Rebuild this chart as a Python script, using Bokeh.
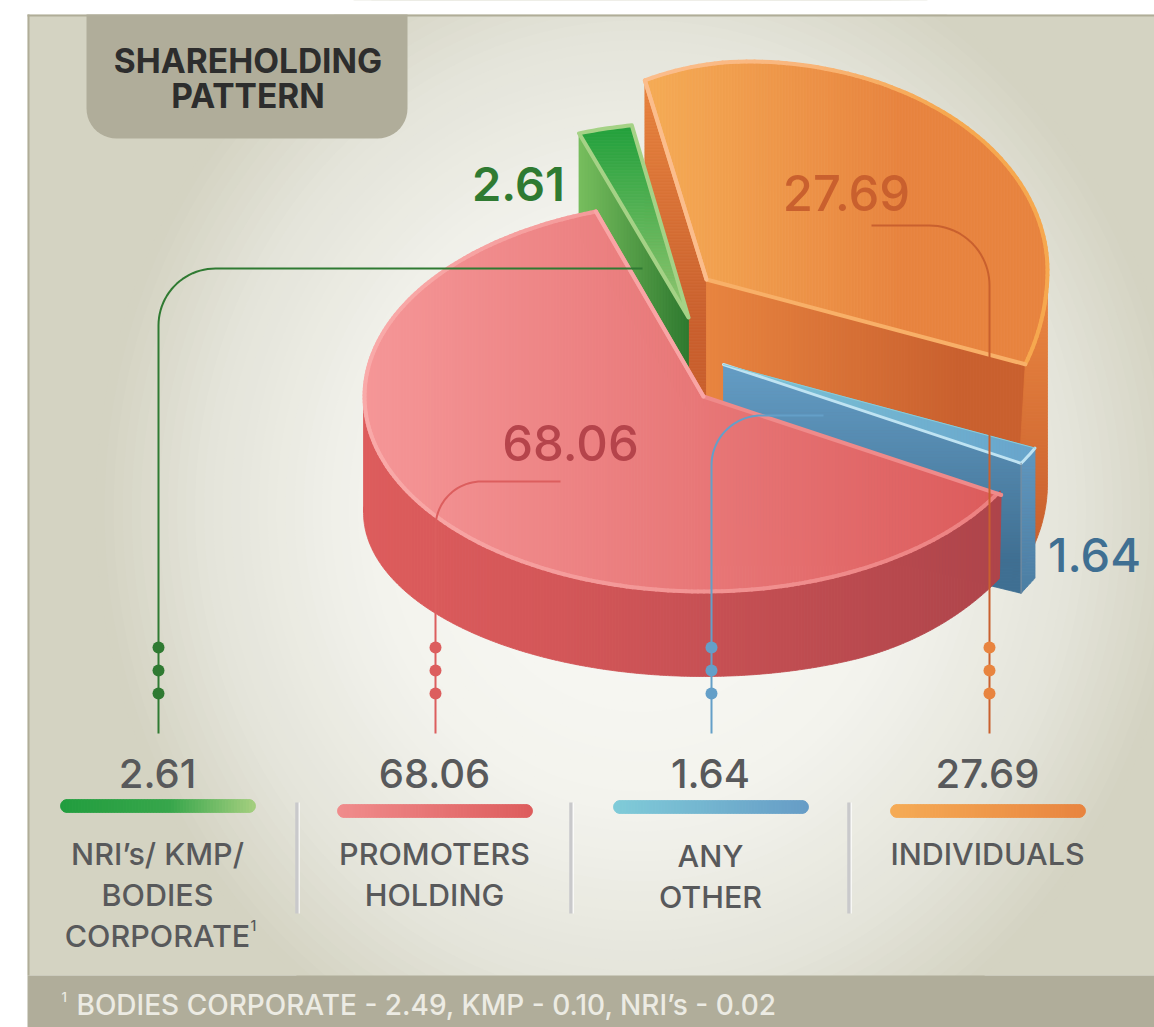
import numpy as np
from bokeh.plotting import figure
from bokeh.models import Range1d
from bokeh.core.properties import value
from bokeh.embed import file_html
from bokeh.resources import INLINE

# ---- data ----
categories = ["NRI's/ KMP/ BODIES CORPORATE", "PROMOTERS HOLDING", "ANY OTHER", "INDIVIDUALS"]
shares = [2.61, 68.06, 1.64, 27.69]
footnote_values = ["BODIES CORPORATE - 2.49", "KMP - 0.10", "NRI\u2019s - 0.02"]
label_lines = [["NRI\u2019s/ KMP/", "BODIES", "CORPORATE"], ["PROMOTERS", "HOLDING"], ["ANY", "OTHER"], ["INDIVIDUALS"]]
title_lines = ["SHAREHOLDING", "PATTERN"]

green_share, red_share, blue_share, orange_share = shares

# ---- layout ----
W, H = 1154, 1027
FONT = "Inter"
MEDIUM = "Inter Medium"
SEMI = "Inter SemiBold"
GREY = "#58595b"

p = figure(width=W, height=H, x_range=Range1d(0, W), y_range=Range1d(H, 0),
           output_backend="svg", toolbar_location=None, min_border=0)
p.axis.visible = False
p.grid.visible = False
p.outline_line_color = None
p.background_fill_color = "#ffffff"


def h2rgb(h):
    return np.array([int(h[i:i + 2], 16) for i in (1, 3, 5)], float)


def mix(stops, t):
    """stops: list of (pos, colour)"""
    t = max(stops[0][0], min(stops[-1][0], t))
    for (a, ca), (b, cb) in zip(stops, stops[1:]):
        if t <= b:
            f = 0 if b == a else (t - a) / (b - a)
            c = h2rgb(ca) * (1 - f) + h2rgb(cb) * f
            return "#%02x%02x%02x" % tuple(int(round(v)) for v in c)
    return stops[-1][1]


def clip(poly, axis, lo, hi):
    def cut(pts, keep, bound):
        out = []
        for i in range(len(pts)):
            a, b = pts[i], pts[(i + 1) % len(pts)]
            ka, kb = keep(a[axis]), keep(b[axis])
            if ka:
                out.append(a)
            if ka != kb:
                f = (bound - a[axis]) / (b[axis] - a[axis])
                out.append((a[0] + f * (b[0] - a[0]), a[1] + f * (b[1] - a[1])))
        return out
    pts = cut(poly, lambda v: v >= lo, lo)
    if pts:
        pts = cut(pts, lambda v: v <= hi, hi)
    return pts


def grad(poly, stops, axis=0, step=3):
    """Fill a polygon with a linear gradient made of thin strips."""
    vals = [q[axis] for q in poly]
    lo, hi = min(vals), max(vals)
    xs, ys, cols = [], [], []
    v = lo
    while v < hi:
        pts = clip(poly, axis, v, min(v + step, hi))
        if len(pts) >= 3:
            xs.append([q[0] for q in pts])
            ys.append([q[1] for q in pts])
            cols.append(mix(stops, v + step / 2))
        v += step
    p.patches(xs, ys, fill_color=cols, line_color=cols, line_width=0.8)


def arc(cx, cy, rx, ry, a0, a1, n=90):
    t = np.radians(np.linspace(a0, a1, n))
    return [(cx + rx * np.cos(a), cy - ry * np.sin(a)) for a in t]


def edge(pts, colour, width=4):
    p.line([q[0] for q in pts], [q[1] for q in pts], line_color=colour, line_width=width,
           line_join="round", line_cap="round")


def grad_edge(pts, stops, width=4):
    xs, ys, cols = [], [], []
    for a, b in zip(pts, pts[1:]):
        xs.append([a[0], b[0]])
        ys.append([a[1], b[1]])
        cols.append(mix(stops, (a[0] + b[0]) / 2))
    p.multi_line(xs, ys, line_color=cols, line_width=width, line_cap="round")


def rrect(x0, y0, x1, y1, r, top=True):
    pts = []
    if top:
        pts += arc(x0 + r, y0 + r, r, r, 180, 90, 12)
        pts += arc(x1 - r, y0 + r, r, r, 90, 0, 12)
    else:
        pts += [(x0, y0), (x1, y0)]
    pts += arc(x1 - r, y1 - r, r, r, 0, -90, 12)
    pts += arc(x0 + r, y1 - r, r, r, -90, -180, 12)
    return pts


def text(x, y, s, size, colour, style="normal", align="center", font=MEDIUM):
    p.text([x], [y], text=[s], text_font=value(font), text_font_size=f"{size}px", text_color=colour,
           text_font_style=style, text_align=align, text_baseline="middle")


# ---- panel with radial background ----
p.quad(left=[27], right=[W], top=[14], bottom=[975], fill_color="#d4d3c2", line_color=None)
for t in np.linspace(1, 0.02, 60):
    e = arc(640, 510, 545 * t, 600 * t, 0, 360, 120)
    c = mix([(0, "#fbfbf8"), (0.5, "#f3f3ed"), (0.8, "#e4e4da"), (1, "#d4d3c2")], t)
    p.patch([q[0] for q in e], [q[1] for q in e], fill_color=c, line_color=None)
p.quad(left=[-5], right=[27], top=[-5], bottom=[H + 5], fill_color="#ffffff", line_color=None)
p.quad(left=[-5], right=[W + 5], top=[-5], bottom=[14], fill_color="#ffffff", line_color=None)
p.quad(left=[27], right=[29], top=[14], bottom=[975], fill_color="#b0ad98", line_color=None)
p.quad(left=[27], right=[W + 5], top=[14], bottom=[16], fill_color="#b0ad98", line_color=None)
p.quad(left=[27], right=[W + 5], top=[975], bottom=[H + 5], fill_color="#b0ad9a", line_color=None)

# title tab
tab = rrect(86, 14, 407, 138, 30, top=False)
p.patch([q[0] for q in tab], [q[1] for q in tab], fill_color="#b0ad9a", line_color=None)
text(247.5, 60, title_lines[0], 33.5, "#2d2d2d", "bold", font=FONT)
text(247.5, 95, title_lines[1], 33.5, "#2d2d2d", "bold", font=FONT)

# ---- orange slice (individuals) ----
OC = (747, 270, 300, 209)
O_START = 110
O_K = 4.9
o_end = O_START - orange_share * O_K


def warp_orange(q):
    # the artwork's rim is not a true ellipse near its two ends
    x, y = q
    if y > 270:
        f = ((y - 270) / 88) ** 2
        x += 7 * f
        y += 3 * f
    if x < 747 and y < 270:
        f = ((747 - x) / 100) ** 2
        y += 6 * f
    return (x, y)


o_arc = [warp_orange(q) for q in arc(*OC, O_START, o_end)]
o_apex = (706, 279)
o_corner0 = o_arc[0]
o_corner1 = o_arc[-1]
O_DEPTH = 213
grad([(o_corner0[0], o_corner0[1]), o_apex, (o_apex[0], 410), (o_corner0[0], 300)],
     [(78, "#e8843f"), (330, "#c9602e")], axis=1)
grad([o_apex, o_corner1, (o_corner1[0], 565), (o_apex[0], 565)],
     [(706, "#e8843f"), (960, "#c9602e")])
rim_right = [q for q in o_arc if q[1] >= 270 and q[0] > 900]
wall = [rim_right[-1]] + rim_right[:0:-1] + [(OC[0] + OC[2], 270)] + \
    arc(OC[0], OC[1] + O_DEPTH, OC[2], OC[3], 0, -28, 30)
grad(wall, [(300, "#e8843f"), (540, "#c9602e")], axis=1)
o_top = [o_apex] + o_arc
grad(o_top, [(650, "#f5ab55"), (900, "#e8843f")])
grad_edge([o_apex] + o_arc + [o_apex], [(650, "#fbbd8c"), (800, "#f9b67c"), (950, "#f6a84f")], 4)
edge([o_corner0, o_apex], "#fbbd8c", 4)

# ---- green slice ----
GC = (688, 317, 333, 195)
G_K = 3.6
g_a0 = 99.8
g_a1 = g_a0 + green_share * G_K
g_arc = arc(*GC, g_a0, g_a1, 12)
g_apex = (688, 317)
g_far = g_arc[-1]
grad([g_far, g_apex, (g_apex[0], 410), (g_far[0], 235)],
     [(577, "#78bf5e"), (688, "#2f7a30")])
grad([g_apex] + g_arc, [(125, "#22a03c"), (300, "#8ac46e")], axis=1)
edge([g_apex] + g_arc + [g_apex], "#a5d286", 4)

# ---- blue slice ----
BC = (723, 364, 344, 197)
B_K = 3.05
b_a0 = -25.1
b_a1 = b_a0 - blue_share * B_K
b_arc = arc(*BC, b_a0, b_a1, 8)
b_apex = (723, 364)
b_far, b_near = b_arc[0], b_arc[-1]
B_DEPTH = 130
grad([b_apex, b_near, (b_near[0], b_near[1] + B_DEPTH), (b_apex[0], 520)],
     [(364, "#649dc5"), (560, "#3f6f92")], axis=1)
grad([b_near, b_far, (b_far[0], b_far[1] + B_DEPTH), (b_near[0], b_near[1] + B_DEPTH)],
     [(450, "#6097bf"), (590, "#4c7ea3")], axis=1)
grad([b_apex] + b_arc, [(723, "#7cc4d6"), (1030, "#68a5cc")])
edge([b_apex, b_near], "#bfe3f2", 3)
edge(b_arc, "#bfe3f2", 3)
edge([b_apex, b_far], "#8accd8", 1)
edge([b_near, (b_near[0], b_near[1] + B_DEPTH)], "#7d8e9c", 1)

# ---- red slice ----
RC = (703, 396, 339, 195)
R_K = 3.27
r_a0 = 108.5
r_a1 = r_a0 + red_share * R_K
r_arc = arc(*RC, r_a0, r_a1, 220)
r_arc[-1] = (r_arc[-1][0] + 1, r_arc[-1][1] + 4)
r_apex = (703, 396)
RL = (703, 512, 340, 164)
x_tip = r_arc[-1][0]


def lift(q):
    # lower rim rises slightly towards the right-hand cut
    x, y = q
    return (x, y - 15 * (max(0, x - 850) / 150) ** 2)


low_arc = [lift(q) for q in arc(*RL, 178, r_a1 + 1, 200) if q[0] <= x_tip]
side = [(363, 396)] + [q for q in arc(*RC, 180, r_a1, 160)] + [r_arc[-1]] + low_arc[::-1] + [(363, 512)]
grad(side, [(363, "#dd5c5c"), (560, "#d35658"), (1003, "#ae444a")])
grad([r_apex] + r_arc, [(363, "#f59697"), (1002, "#dc5b5b")])
grad_edge([r_apex] + r_arc + [r_apex], [(363, "#f9aaa9"), (1002, "#ec8080")], 4)
edge([r_arc[0], r_apex], "#f9a5a5", 4)


# ---- leader lines ----
def leader(x_end, y_h, x_v, r, colour, dot, bottom=733):
    sign = 1 if x_end > x_v else -1
    if sign > 0:
        curve = arc(x_v + r, y_h + r, r, r, 90, 180, 24)
    else:
        curve = arc(x_v - r, y_h + r, r, r, 90, 0, 24)
    pts = [(x_end, y_h)] + curve + [(x_v, bottom)]
    p.line([q[0] for q in pts], [q[1] for q in pts], line_color=colour, line_width=2)
    p.scatter([x_v] * 3, [647, 670, 693], size=12, fill_color=dot, line_color=None)


leader(642, 268, 158, 57, "#2f7a32", "#2f7a32")
leader(560, 481, 435, 46, "#dc5e5e", "#dc5e5e")
leader(823, 415, 711, 50, "#649fc8", "#649fc8")
leader(871, 225, 989, 60, "#c9602e", "#e8843f")

# ---- value labels on the pie ----
text(518, 183, f"{green_share:.2f}", 47, "#2f7a32", font=SEMI)
text(846, 192, f"{orange_share:.2f}", 49, "#c9602e")
text(570, 442, f"{red_share:.2f}", 49, "#b5444b")
text(1094, 554, f"{blue_share:.2f}", 47, "#3f6f92")

# ---- bottom legend ----
centres = [158, 435, 711, 988]
bar_y = [805.5, 810.5, 806.5, 810.5]
bar_stops = [
    [(60, "#219d3e"), (170, "#37a64b"), (255, "#a5cf7f")],
    [(337, "#f08c8c"), (532, "#dd5c5c")],
    [(614, "#7fcbd8"), (808, "#669cc6")],
    [(891, "#f5ab55"), (1085, "#e8843f")],
]
label_y = [[853, 894, 935], [853, 894], [855, 896], [853]]
for c, v, by, st, lines, ys in zip(centres, shares, bar_y, bar_stops, label_lines, label_y):
    text(c - 1, 773, f"{v:.2f}", 40, GREY)
    grad(rrect(c - 98, by - 6.5, c + 97, by + 6.5, 6.5), st, step=3)
    for line, yy in zip(lines, ys):
        text(c - 1, yy - 0.5, line, 30.5, GREY)
text(250, 925, "1", 14, GREY, align="left")

for x in [296.5, 570.5, 848.5]:
    p.line([x, x], [802, 913], line_color="#c9c9cb", line_width=3.5)
    p.line([x + 2.2, x + 2.2], [802, 913], line_color="#ffffff", line_width=1)

# ---- footnote ----
text(61, 996, "1", 13, "#ecebe3", align="left")
text(76, 1004.5, ", ".join(footnote_values), 28, "#ecebe3", align="left")

open("out.html", "w").write(file_html(p, INLINE))
